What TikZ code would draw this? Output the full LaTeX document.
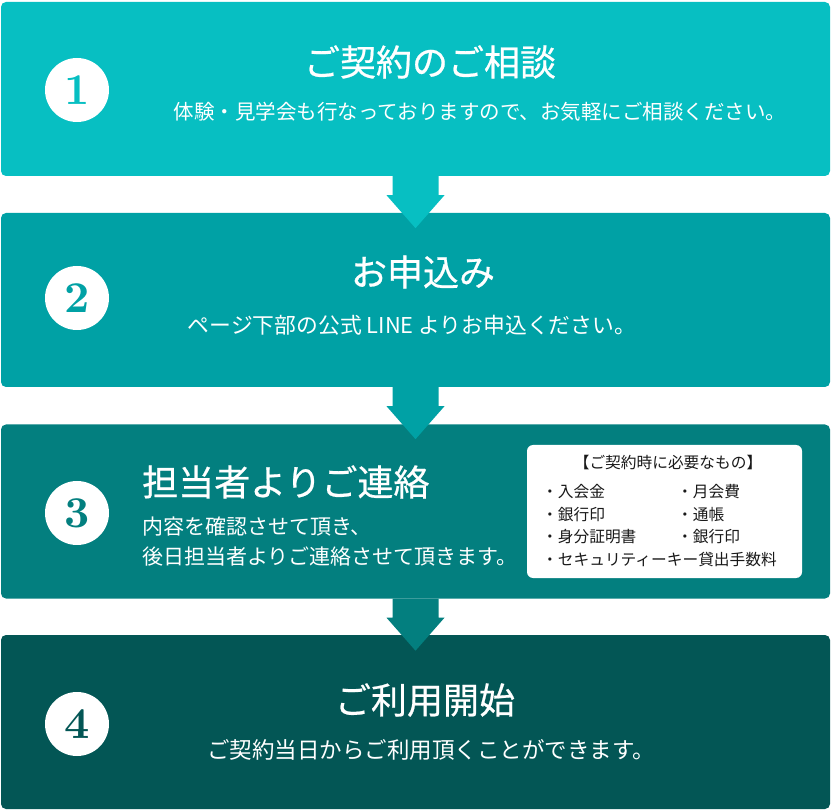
\documentclass[tikz,border=0pt]{standalone}
\usepackage{fontspec}
\setmainfont{Noto Sans CJK JP}
\newfontfamily\headfont[FakeBold=0.6]{Noto Sans CJK JP}
\newfontfamily\numfont{lmroman10-bold.otf}
\definecolor{stepA}{HTML}{07BFC2}
\definecolor{stepB}{HTML}{00A1A5}
\definecolor{stepC}{HTML}{037F7F}
\definecolor{stepD}{HTML}{035655}
\tikzset{
  stepbox/.style={rounded corners=5pt, minimum width=829pt, minimum height=174pt, inner sep=0pt},
  numdot/.style={circle, fill=white, minimum size=64pt, inner sep=0pt, font=\numfont\fontsize{44}{44}\selectfont},
  title/.style={text=white, inner sep=0pt, font=\headfont\fontsize{36}{40}\selectfont},
  lead/.style={text=white, inner sep=0pt, font=\fontsize{21}{30}\selectfont},
  item/.style={text=black!90, anchor=west, inner sep=0pt, font=\fontsize{15.7}{18}\selectfont},
}
\begin{document}
\begin{tikzpicture}[x=1pt,y=-1pt]
  \useasboundingbox (0,0) rectangle (831,810);
  % the four steps
  \node[stepbox, fill=stepA] (s1) at (415.5,89) {};
  \node[stepbox, fill=stepB] (s2) at (415.5,300) {};
  \node[stepbox, fill=stepC] (s3) at (415.5,511.5) {};
  \node[stepbox, fill=stepD] (s4) at (415.5,722) {};
  % arrows between steps
  \fill[stepA] (s1.south) ++(-23,0) -- ++(0,19) -- ++(-6,0) -- ++(29,33) -- ++(29,-33) -- ++(-6,0) -- ++(0,-19) -- cycle;
  \fill[stepB] (s2.south) ++(-23,0) -- ++(0,19) -- ++(-6,0) -- ++(29,33) -- ++(29,-33) -- ++(-6,0) -- ++(0,-19) -- cycle;
  \fill[stepC] (s3.south) ++(-23,0) -- ++(0,19) -- ++(-6,0) -- ++(29,33) -- ++(29,-33) -- ++(-6,0) -- ++(0,-19) -- cycle;
  % numbers
  \node[numdot, text=stepA] (n1) at (77,90) {1};
  \node[numdot, text=stepB] (n2) at (77,298) {2};
  \node[numdot, text=stepC] (n3) at (77,513) {3};
  \node[numdot, text=stepD] (n4) at (77,724) {4};
  % step 1
  \node[title] (t1) at (430,62) {ご契約のご相談};
  \node[lead, font=\fontsize{20.5}{30}\selectfont] (l1) at (480,112) {体験・見学会も行なっておりますので、お気軽にご相談ください。};
  % step 2
  \node[title] (t2) at (423,272) {お申込み};
  \node[lead, font=\fontsize{21.8}{30}\selectfont] (l2) at (412,325) {ページ下部の公式 LINE よりお申込ください。};
  % step 3
  \node[title, anchor=west] (t3) at (142,482) {担当者よりご連絡};
  \node[lead, anchor=west, align=left] (l3) at (142,542) {内容を確認させて頂き、\\後日担当者よりご連絡させて頂きます。};
  \node[fill=white, rounded corners=6pt, minimum width=275pt, minimum height=133pt] (memo) at (664.5,511.5) {};
  \node[item, anchor=center] (mh) at (668,463) {【ご契約時に必要なもの】};
  \node[item] (m1) at (542,492) {・入会金};
  \node[item] (m2) at (677,492) {・月会費};
  \node[item] (m3) at (542,514.5) {・銀行印};
  \node[item] (m4) at (677,514.5) {・通帳};
  \node[item] (m5) at (542,537) {・身分証明書};
  \node[item] (m6) at (677,537) {・銀行印};
  \node[item] (m7) at (542,560) {・セキュリティーキー貸出手数料};
  % step 4
  \node[title] (t4) at (425,700) {ご利用開始};
  \node[lead, font=\fontsize{22.5}{30}\selectfont] (l4) at (431,750) {ご契約当日からご利用頂くことができます。};
\end{tikzpicture}
\end{document}
